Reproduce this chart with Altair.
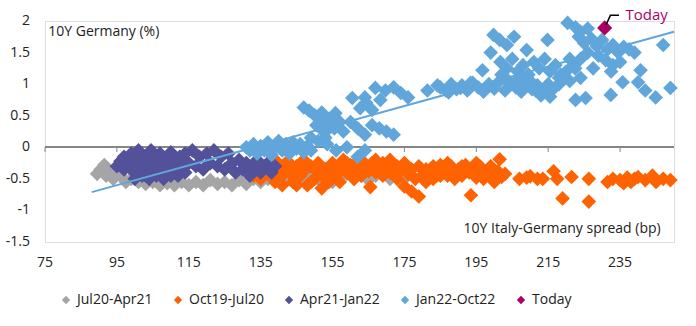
import altair as alt
import pandas as pd

# ---------------- data ----------------
series_names = ["Jul20-Apr21", "Oct19-Jul20", "Apr21-Jan22", "Jan22-Oct22", "Today"]
series_colors = ["#A5A5A5", "#FF6200", "#525199", "#60A6DA", "#AB0066"]

gray_x = [89.5, 90.5, 91.5, 92, 93, 94, 95, 96, 97.5, 99, 101, 103, 105, 107, 109, 111, 113, 115,
          117, 119, 121, 123, 125, 127, 129, 131, 133, 135, 137, 139, 141, 143, 145, 147, 149, 151,
          153, 155, 157, 159, 161, 163, 165, 167, 169, 171, 173, 175]
gray_y = [-0.42, -0.35, -0.28, -0.45, -0.38, -0.5, -0.32, -0.45, -0.55, -0.5, -0.55, -0.58, -0.55,
          -0.6, -0.57, -0.6, -0.55, -0.6, -0.55, -0.6, -0.52, -0.58, -0.55, -0.6, -0.52, -0.58, -0.5,
          -0.55, -0.5, -0.45, -0.55, -0.5, -0.45, -0.5, -0.42, -0.5, -0.45, -0.55, -0.48, -0.42,
          -0.5, -0.45, -0.52, -0.45, -0.42, -0.5, -0.47, -0.5]

orange_x = [133, 135, 137, 138, 139, 140, 141, 142, 143, 144, 145, 146, 147, 148, 149, 150, 151, 152,
            153, 154, 155, 156, 157, 158, 159, 160, 161, 162, 163, 164, 165, 165.5, 166, 167, 168,
            169, 170, 171, 172, 173, 174, 175, 176, 177, 178, 179, 180, 181, 182, 183, 184, 185,
            186, 187, 188, 189, 190, 191, 192, 193, 193.5, 194, 195, 196, 197, 198, 199, 200, 201,
            201.5, 202, 207, 209, 210, 212, 213.5, 216.5, 217.5, 219, 221.5, 226.3, 226.3, 231.5,
            233, 235, 236, 237, 238, 239, 240, 242, 244, 245, 247, 249,
            139, 141, 143, 145, 147, 149, 151, 153, 155, 157, 159, 161, 163, 167, 169, 171, 173,
            175, 177, 179, 181, 183, 185, 187, 189, 191, 195, 197, 199, 200, 203]
orange_y = [-0.45, -0.5, -0.42, -0.3, -0.55, -0.35, -0.45, -0.25, -0.4, -0.55, -0.3, -0.45, -0.38,
            -0.6, -0.3, -0.5, -0.4, -0.65, -0.35, -0.55, -0.25, -0.45, -0.3, -0.2, -0.4, -0.28,
            -0.35, -0.22, -0.45, -0.3, -0.38, -0.63, -0.25, -0.4, -0.32, -0.45, -0.3, -0.4, -0.28,
            -0.5, -0.35, -0.62, -0.42, -0.7, -0.5, -0.78, -0.45, -0.35, -0.4, -0.3, -0.45, -0.28,
            -0.38, -0.45, -0.3, -0.4, -0.35, -0.45, -0.28, -0.4, -0.76, -0.35, -0.48, -0.3, -0.42,
            -0.38, -0.45, -0.42, -0.38, -0.19, -0.47, -0.5, -0.48, -0.46, -0.5, -0.5, -0.38, -0.5,
            -0.81, -0.47, -0.5, -0.86, -0.55, -0.5, -0.52, -0.57, -0.48, -0.55, -0.5, -0.47, -0.52,
            -0.45, -0.55, -0.5, -0.52,
            -0.2, -0.6, -0.25, -0.6, -0.2, -0.55, -0.25, -0.5, -0.4, -0.55, -0.25, -0.5, -0.2,
            -0.2, -0.25, -0.2, -0.3, -0.25, -0.35, -0.3, -0.55, -0.5, -0.45, -0.25, -0.5, -0.3,
            -0.25, -0.5, -0.3, -0.55, -0.42]

purple_x = [95, 96, 97, 98, 99, 100, 100.5, 101, 102, 102.5, 103, 104, 104.5, 105, 105.5, 106, 107,
            107.5, 108, 109, 109.5, 110, 111, 112, 112.5, 113, 114, 115, 116, 117, 118, 119, 120,
            121, 122, 123, 124, 125, 126, 127, 128, 129, 130, 131, 132, 133, 134, 135, 136, 137,
            138, 139,
            100, 101, 103, 104, 106, 108, 110, 111, 113, 114, 97, 99]
purple_y = [-0.3, -0.22, -0.35, -0.25, -0.1, -0.4, -0.2, -0.05, -0.45, -0.3, -0.15, -0.5, -0.05,
            -0.35, -0.2, -0.45, -0.1, -0.3, -0.5, -0.2, -0.4, -0.08, -0.3, -0.45, -0.15, -0.35,
            -0.1, -0.25, -0.05, -0.3, -0.15, -0.35, -0.1, -0.25, -0.05, -0.3, -0.15, -0.35, -0.1,
            -0.25, -0.4, -0.2, -0.35, -0.25, -0.45, -0.3, -0.2, -0.4, -0.3, -0.25, -0.4, -0.3,
            -0.5, -0.3, -0.45, -0.25, -0.3, -0.35, -0.45, -0.15, -0.2, -0.4, -0.15, -0.35]

blue_x = [131, 132, 133, 134, 135, 136, 137, 138, 139, 140, 141, 142, 143, 144, 145, 146, 147, 148,
          149,
          147, 148.5, 150, 151.5, 152, 153, 150.5, 152.5, 154, 149, 151, 153, 155.8,
          160.5, 164, 166.9, 169.7, 162.7, 166, 164.4, 168.3, 172, 174, 176,
          181.4, 184.2, 187.3, 190.6, 193.4,
          156, 158, 160, 162, 164, 166, 168, 170, 172,
          153.5, 156, 159, 162, 164,
          152, 154, 155.5, 157,
          185, 186.5, 188, 189.5, 191, 192.5, 194, 195.5, 197, 198.5, 200, 201.5, 203, 204.5,
          206, 207.5, 209, 210.5, 212, 213.5, 215, 216.5, 218,
          211.5, 213, 215.5,
          199.8, 201.5, 203.5, 205.5, 199, 209, 214.8, 201.7, 203.5, 205, 206.5, 208, 209.5, 211,
          212.5, 214, 215.5, 217, 218.5, 196.7, 202, 204, 207, 210,
          220.4, 222.6, 224, 226, 223.5, 225, 227, 228.5, 230, 231.5, 233, 234.5, 229, 231, 233,
          226, 224, 222, 220, 218, 221, 236, 237.5, 239, 247, 227.5, 232.5, 235, 221, 222.5, 224,
          222.6, 225.4, 232.4, 235.7, 240.7, 240, 242, 244.9, 249]
blue_y = [0.0, -0.05, 0.05, -0.1, 0.02, -0.05, 0.08, -0.12, 0.0, 0.1, -0.05, 0.05, -0.1, 0.08,
          -0.02, 0.05, -0.08, 0.02, -0.05,
          0.63, 0.58, 0.51, 0.45, 0.4, 0.38, 0.35, 0.25, 0.3, 0.15, 0.1, 0.15, 0.54,
          0.78, 0.79, 0.94, 0.9, 0.62, 0.59, 0.7, 0.75, 0.95, 0.86, 0.79,
          0.9, 0.98, 0.87, 0.94, 1.02,
          0.35, 0.25, 0.4, 0.3, 0.2, 0.35, 0.3, 0.25, 0.2,
          0.05, -0.05, 0.0, -0.15, -0.05,
          0.55, 0.45, 0.3, 0.4,
          0.95, 0.9, 1.0, 0.92, 0.98, 0.9, 1.02, 0.95, 0.88, 1.0, 0.93, 1.05, 0.9, 1.0, 0.95,
          0.88, 1.0, 0.92, 0.98, 0.9, 1.0, 0.93, 1.0,
          0.9, 0.82, 0.8,
          1.78, 1.7, 1.62, 1.75, 1.5, 1.54, 1.7, 1.35, 1.25, 1.4, 1.2, 1.3, 1.15, 1.35, 1.25,
          1.4, 1.2, 1.3, 1.15, 1.22, 1.15, 1.05, 1.1, 1.05,
          1.97, 1.9, 1.83, 1.88, 1.75, 1.65, 1.72, 1.6, 1.7, 1.55, 1.62, 1.5, 1.45, 1.38, 1.3,
          1.5, 1.4, 1.3, 1.2, 1.1, 1.05, 1.59, 1.55, 1.5, 1.62, 1.25, 1.2, 1.35, 1.4, 1.25, 1.1,
          0.75, 0.78, 0.83, 1.03, 1.22, 1.03, 0.9, 0.79, 0.94]

today_x = [230.7]
today_y = [1.89]

trend_x = [88.0, 250.0]
trend_y = [-0.71, 1.83]

x_ticks = [75, 95, 115, 135, 155, 175, 195, 215, 235]
x_tick_labels = ["75", "95", "115", "135", "155", "175", "195", "215", "235"]
y_ticks = [-1.5, -1.0, -0.5, 0.0, 0.5, 1.0, 1.5, 2.0]
y_tick_labels = ["-1.5", "-1", "-0.5", "0", "0.5", "1", "1.5", "2"]

# ---------------- tables ----------------
rows = []
for name, xs_, ys_ in [(series_names[0], gray_x, gray_y), (series_names[1], orange_x, orange_y),
                       (series_names[2], purple_x, purple_y), (series_names[3], blue_x, blue_y),
                       (series_names[4], today_x, today_y)]:
    for a, b in zip(xs_, ys_):
        rows.append({"spread": a, "bund": b, "series": name})
points_df = pd.DataFrame(rows)
points_df["idx"] = range(len(points_df))
trend_df = pd.DataFrame({"spread": trend_x, "bund": trend_y})
ticks_df = pd.DataFrame({"spread": x_ticks, "y0": [0] * len(x_ticks), "y1": [-0.075] * len(x_ticks),
                         "ybot": [-1.5] * len(x_ticks), "t": x_tick_labels})
ylab_df = pd.DataFrame({"bund": y_ticks, "t": y_tick_labels})

FONT = "Open Sans"
MS = 215
xs = alt.Scale(domain=[75, 250], nice=False, zero=False)
ys = alt.Scale(domain=[-1.5, 2], nice=False, zero=False)

X = lambda: alt.X("spread:Q", scale=xs, axis=None)
Y = lambda: alt.Y("bund:Q", scale=ys, axis=None)

y_enc = alt.Y("bund:Q", scale=ys,
              axis=alt.Axis(values=y_ticks, domain=False, ticks=False, grid=True, gridColor="#D9D9D9",
                            labels=False, title=None))

grid_base = alt.Chart(points_df).mark_point(opacity=0).encode(x=X(), y=y_enc)

# y tick labels drawn as text at the axis values
ylabels = alt.Chart(ylab_df).mark_text(align="right", baseline="middle", fontSize=14, font=FONT,
                                       color="#222", dx=-15).encode(
    x=alt.value(0), y=Y(), text="t:N")

# x tick labels under the plot
xlabels = alt.Chart(ticks_df).mark_text(align="center", baseline="middle", fontSize=14, font=FONT,
                                        color="#222", dy=21).encode(
    x=X(), y=alt.Y("ybot:Q", scale=ys, axis=None), text="t:N")

zero_line = alt.Chart(points_df).mark_rule(color="#868686", strokeWidth=1).encode(y=alt.datum(0))

tick_marks = alt.Chart(ticks_df).mark_rule(color="#868686", strokeWidth=1).encode(
    x=X(), y=alt.Y("y0:Q", scale=ys, axis=None), y2="y1:Q")

pts = alt.Chart(points_df).mark_point(shape="diamond", filled=True, size=MS, opacity=1).encode(
    x=X(),
    y=Y(),
    color=alt.Color("series:N", scale=alt.Scale(domain=series_names, range=series_colors),
                    legend=alt.Legend(title=None, orient="none", direction="horizontal",
                                      legendX=14, legendY=272, symbolType="diamond",
                                      symbolSize=70, labelFontSize=14, labelFont=FONT,
                                      labelColor="#222", columnPadding=18, labelOffset=4,
                                      padding=0)),
    order=alt.Order("idx:Q"),
)

trend = alt.Chart(trend_df).mark_line(color="#60A6DA", strokeWidth=2).encode(x=X(), y=Y())

today_df = pd.DataFrame({"spread": today_x, "bund": today_y})
today_pt = alt.Chart(today_df).mark_point(shape="diamond", filled=True, size=MS, opacity=1,
                                          color="#AB0066").encode(x=X(), y=Y())

callout_df = pd.DataFrame({"spread": [today_x[0] + 0.4, today_x[0] + 1.6, today_x[0] + 4.0],
                           "bund": [today_y[0] + 0.05, today_y[0] + 0.2, today_y[0] + 0.2]})
callout = alt.Chart(callout_df).mark_line(color="#000", strokeWidth=1.5).encode(x=X(), y=Y())

label_df = pd.DataFrame({"spread": [today_x[0] + 5.8], "bund": [today_y[0] + 0.2], "t": ["Today"]})
today_lbl = alt.Chart(label_df).mark_text(align="left", baseline="middle", fontSize=15, font=FONT,
                                          color="#AB0066").encode(x=X(), y=Y(), text="t:N")

titles_df = pd.DataFrame({"spread": [75.9, 246.3], "bund": [1.83, -1.3],
                          "t": ["10Y Germany (%)", "10Y Italy-Germany spread (bp)"]})
ytitle = alt.Chart(titles_df.iloc[[0]]).mark_text(align="left", baseline="middle", fontSize=14,
                                                  font=FONT, color="#222").encode(
    x=X(), y=Y(), text="t:N")
xtitle = alt.Chart(titles_df.iloc[[1]]).mark_text(align="right", baseline="middle", fontSize=14,
                                                  font=FONT, color="#222").encode(
    x=X(), y=Y(), text="t:N")

chart = alt.layer(grid_base, zero_line, tick_marks, pts, trend, today_pt, callout, today_lbl,
                  ytitle, xtitle, ylabels, xlabels).properties(
    width=629, height=221,
    autosize=alt.AutoSizeParams(type="none"),
    padding={"left": 45, "top": 21, "right": 22, "bottom": 84},
).configure_view(stroke=None).configure(background="white")

chart.save("out.html", embed_options={"renderer": "svg", "actions": False})
